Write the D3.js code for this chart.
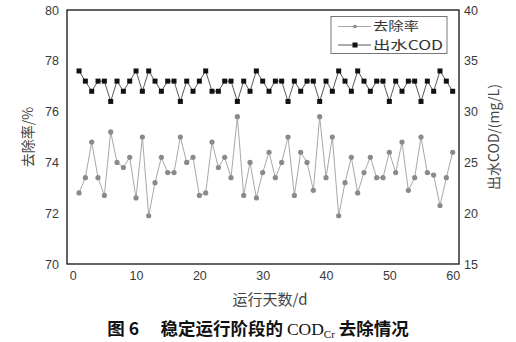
<!DOCTYPE html>
<html><head><meta charset="utf-8">
<script src="https://cdn.jsdelivr.net/npm/d3@7"></script>
<style>body{margin:0;background:#fff}svg{display:block}</style>
</head><body>
<script>
const days = d3.range(1, 61);
const removalRate = [72.8,73.4,74.8,73.4,72.7,75.2,74.0,73.8,74.2,72.6,75.0,71.9,73.2,74.2,73.6,73.6,75.0,74.0,74.2,72.7,
72.8,74.8,73.8,74.2,73.4,75.8,72.7,74.0,72.6,73.6,74.4,73.4,74.0,75.0,72.7,74.4,74.0,72.9,75.8,73.4,
75.0,71.9,73.2,74.2,72.8,73.6,74.2,73.4,73.4,74.4,73.6,74.8,72.9,73.4,75.0,73.6,73.5,72.3,73.4,74.4];
const effluentCOD = [34,33,32,33,33,31,33,32,33,34,32,34,33,32,33,33,31,33,32,33,
34,32,32,33,33,31,33,32,34,33,32,33,33,31,33,32,33,33,31,33,
32,34,33,32,34,33,32,33,33,31,33,32,33,33,31,33,32,34,33,32];
const xTicks = [0,10,20,30,40,50,60];
const leftTicks = [70,72,74,76,78,80];
const rightTicks = [15,20,25,30,35,40];
const seriesNames = ["去除率","出水COD"];

const W = 516, H = 342;
const svg = d3.select("body").append("svg").attr("width", W).attr("height", H);
const L = 67, R = 459, T = 10, B = 264;
const x = d3.scaleLinear().domain([-0.9, 61.0]).range([L, R]);
const yL = d3.scaleLinear().domain([70, 80]).range([B, T]);
const yR = d3.scaleLinear().domain([15, 40]).range([B, T]);
const tickFont = "Liberation Sans, Arial, sans-serif";

// axes
const gx = svg.append("g").attr("transform", `translate(0,${B})`)
  .call(d3.axisBottom(x).tickValues(xTicks).tickSize(0).tickPadding(7));
const gl = svg.append("g").attr("transform", `translate(${L},0)`)
  .call(d3.axisLeft(yL).tickValues(leftTicks).tickSize(0).tickPadding(8));
const gr = svg.append("g").attr("transform", `translate(${R},0)`)
  .call(d3.axisRight(yR).tickValues(rightTicks).tickSize(0).tickPadding(5));
[gx, gl, gr].forEach(g => {
  g.select(".domain").remove();
  g.selectAll("text").attr("font-family", tickFont).attr("font-size", 12.5).attr("fill", "#3a3a3a");
});

// frame
svg.append("rect").attr("x", L).attr("y", T).attr("width", R - L).attr("height", B - T)
  .attr("fill", "none").attr("stroke", "#222").attr("stroke-width", 1.4);

// removal rate series
const lineL = d3.line().x((d, i) => x(days[i])).y(d => yL(d));
svg.append("path").datum(removalRate).attr("d", lineL)
  .attr("fill", "none").attr("stroke", "#a8a8a8").attr("stroke-width", 1);
svg.append("g").selectAll("circle").data(removalRate).join("circle")
  .attr("cx", (d, i) => x(days[i])).attr("cy", d => yL(d)).attr("r", 2.6)
  .attr("fill", "#8a8a8a");

// COD series
const lineR = d3.line().x((d, i) => x(days[i])).y(d => yR(d));
svg.append("path").datum(effluentCOD).attr("d", lineR)
  .attr("fill", "none").attr("stroke", "#444").attr("stroke-width", 0.9);
svg.append("g").selectAll("rect").data(effluentCOD).join("rect")
  .attr("x", (d, i) => x(days[i]) - 2.5).attr("y", d => yR(d) - 2.5)
  .attr("width", 5).attr("height", 5).attr("fill", "#111");

// legend
const lg = svg.append("g");
lg.append("rect").attr("x", 331).attr("y", 16.5).attr("width", 116).attr("height", 37)
  .attr("fill", "#fff").attr("stroke", "#555").attr("stroke-width", 0.8);
const legY = [26.5, 45];
lg.append("line").attr("x1", 338).attr("x2", 371).attr("y1", legY[0]).attr("y2", legY[0])
  .attr("stroke", "#a8a8a8").attr("stroke-width", 1);
lg.append("circle").attr("cx", 355).attr("cy", legY[0]).attr("r", 1.8).attr("fill", "#8a8a8a");
lg.append("line").attr("x1", 338).attr("x2", 371).attr("y1", legY[1]).attr("y2", legY[1])
  .attr("stroke", "#444").attr("stroke-width", 0.9);
lg.append("rect").attr("x", 352.5).attr("y", legY[1] - 2.5).attr("width", 5).attr("height", 5).attr("fill", "#111");
lg.selectAll("text.leg").data(seriesNames).join("text").attr("class", "leg")
  .attr("x", 373).attr("y", (d, i) => legY[i] + 4.5)
  .attr("font-family", "Noto Sans CJK SC, sans-serif").attr("font-size", 12.5).attr("fill", "#333")
  .attr("textLength", (d, i) => i === 0 ? 46 : 70).attr("lengthAdjust", "spacingAndGlyphs")
  .text(d => d);

// axis titles
const cjk = "Noto Sans CJK SC, sans-serif";
svg.append("text").attr("transform", `translate(33,${(T + B) / 2}) rotate(-90)`)
  .attr("text-anchor", "middle").attr("font-family", cjk).attr("font-size", 14).attr("fill", "#444")
  .text("去除率/%");
svg.append("text").attr("transform", `translate(499,${(T + B) / 2}) rotate(-90)`)
  .attr("text-anchor", "middle").attr("font-family", cjk).attr("font-size", 14).attr("fill", "#444")
  .text("出水COD/(mg/L)");
svg.append("text").attr("x", 270).attr("y", 305).attr("text-anchor", "middle")
  .attr("font-family", cjk).attr("font-size", 15).attr("fill", "#444").text("运行天数/d");

// caption
const cap = svg.append("text").attr("x", 258).attr("y", 335).attr("text-anchor", "middle")
  .attr("font-family", cjk).attr("font-size", 17.5).attr("font-weight", "bold").attr("fill", "#111");
cap.append("tspan").text("图 6\u3000 稳定运行阶段的 ");
cap.append("tspan").attr("font-family", "Liberation Serif, serif").attr("font-weight", "normal").text("COD");
cap.append("tspan").attr("font-family", "Liberation Serif, serif").attr("font-weight", "normal")
  .attr("font-size", 11).attr("dy", 3).text("Cr");
cap.append("tspan").attr("dy", -3).text(" 去除情况");
</script>
</body></html>
